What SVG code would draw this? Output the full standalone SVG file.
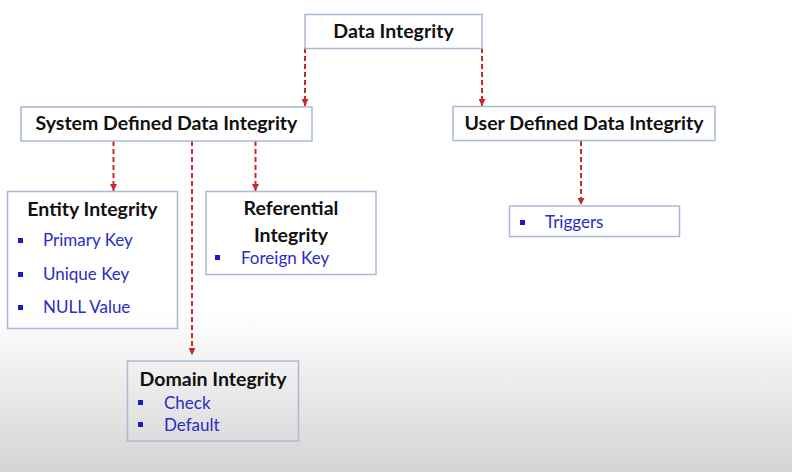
<svg xmlns="http://www.w3.org/2000/svg" width="792" height="472" viewBox="0 0 792 472">
<defs>
<linearGradient id="bg" x1="0" y1="0" x2="0" y2="1">
<stop offset="0" stop-color="#ffffff"/>
<stop offset="0.66" stop-color="#ffffff"/>
<stop offset="1" stop-color="#d4d4d4"/>
</linearGradient>
<marker id="ah" viewBox="0 0 10 10" refX="10" refY="5" markerWidth="7" markerHeight="7" markerUnits="userSpaceOnUse" orient="auto">
<path d="M0,0 L10,5 L0,10 z" fill="#c8282c"/>
</marker>
</defs>
<style>
.box{fill:none;stroke:#a9bbd2;stroke-width:1.5}
.title{font-family:Lato,"Liberation Sans",sans-serif;font-weight:bold;font-size:19.5px;fill:#111;text-anchor:middle}
.item{font-family:Lato,"Liberation Sans",sans-serif;font-size:17px;fill:#2b2bc8}
.bul{fill:#1a1acc}
.conn{stroke:#c8282c;stroke-width:2;stroke-dasharray:5,3;fill:none;marker-end:url(#ah)}
</style>
<rect width="792" height="472" fill="url(#bg)"/>
<g id="connectors">
<line class="conn" x1="305" y1="48" x2="305" y2="106"/>
<line class="conn" x1="482" y1="48" x2="482" y2="106"/>
<line class="conn" x1="113.5" y1="141" x2="113.5" y2="191"/>
<line class="conn" x1="192" y1="141" x2="192" y2="355"/>
<line class="conn" x1="255.5" y1="141" x2="255.5" y2="191"/>
<line class="conn" x1="581" y1="141" x2="581" y2="205"/>
</g>
<g id="data-integrity">
<rect class="box" x="305" y="14.5" width="177" height="34"/>
<text class="title" x="393.5" y="38">Data Integrity</text>
</g>
<g id="system-defined">
<rect class="box" x="21" y="107" width="291" height="34"/>
<text class="title" x="166.5" y="130">System Defined Data Integrity</text>
</g>
<g id="user-defined">
<rect class="box" x="453" y="106.5" width="262" height="34"/>
<text class="title" x="584" y="130">User Defined Data Integrity</text>
</g>
<g id="entity-integrity">
<rect class="box" x="7.5" y="191.5" width="170" height="137"/>
<text class="title" x="92.5" y="216">Entity Integrity</text>
<rect class="bul" x="18" y="238" width="5" height="5"/>
<text class="item" x="43" y="246">Primary Key</text>
<rect class="bul" x="18" y="272" width="5" height="5"/>
<text class="item" x="43" y="280">Unique Key</text>
<rect class="bul" x="18" y="305" width="5" height="5"/>
<text class="item" x="43" y="313">NULL Value</text>
</g>
<g id="referential-integrity">
<rect class="box" x="206" y="191.5" width="170" height="83"/>
<text class="title" x="291" y="215">Referential</text>
<text class="title" x="291" y="242">Integrity</text>
<rect class="bul" x="215" y="255" width="5" height="5"/>
<text class="item" x="241" y="264">Foreign Key</text>
</g>
<g id="domain-integrity">
<rect class="box" x="127.5" y="361" width="171" height="80"/>
<text class="title" x="213" y="386">Domain Integrity</text>
<rect class="bul" x="138" y="400" width="5" height="5"/>
<text class="item" x="164" y="409">Check</text>
<rect class="bul" x="138" y="422" width="5" height="5"/>
<text class="item" x="164" y="431">Default</text>
</g>
<g id="triggers">
<rect class="box" x="509.5" y="206" width="170" height="30.5"/>
<rect class="bul" x="520" y="220" width="5" height="5"/>
<text class="item" x="545" y="228">Triggers</text>
</g>
</svg>
